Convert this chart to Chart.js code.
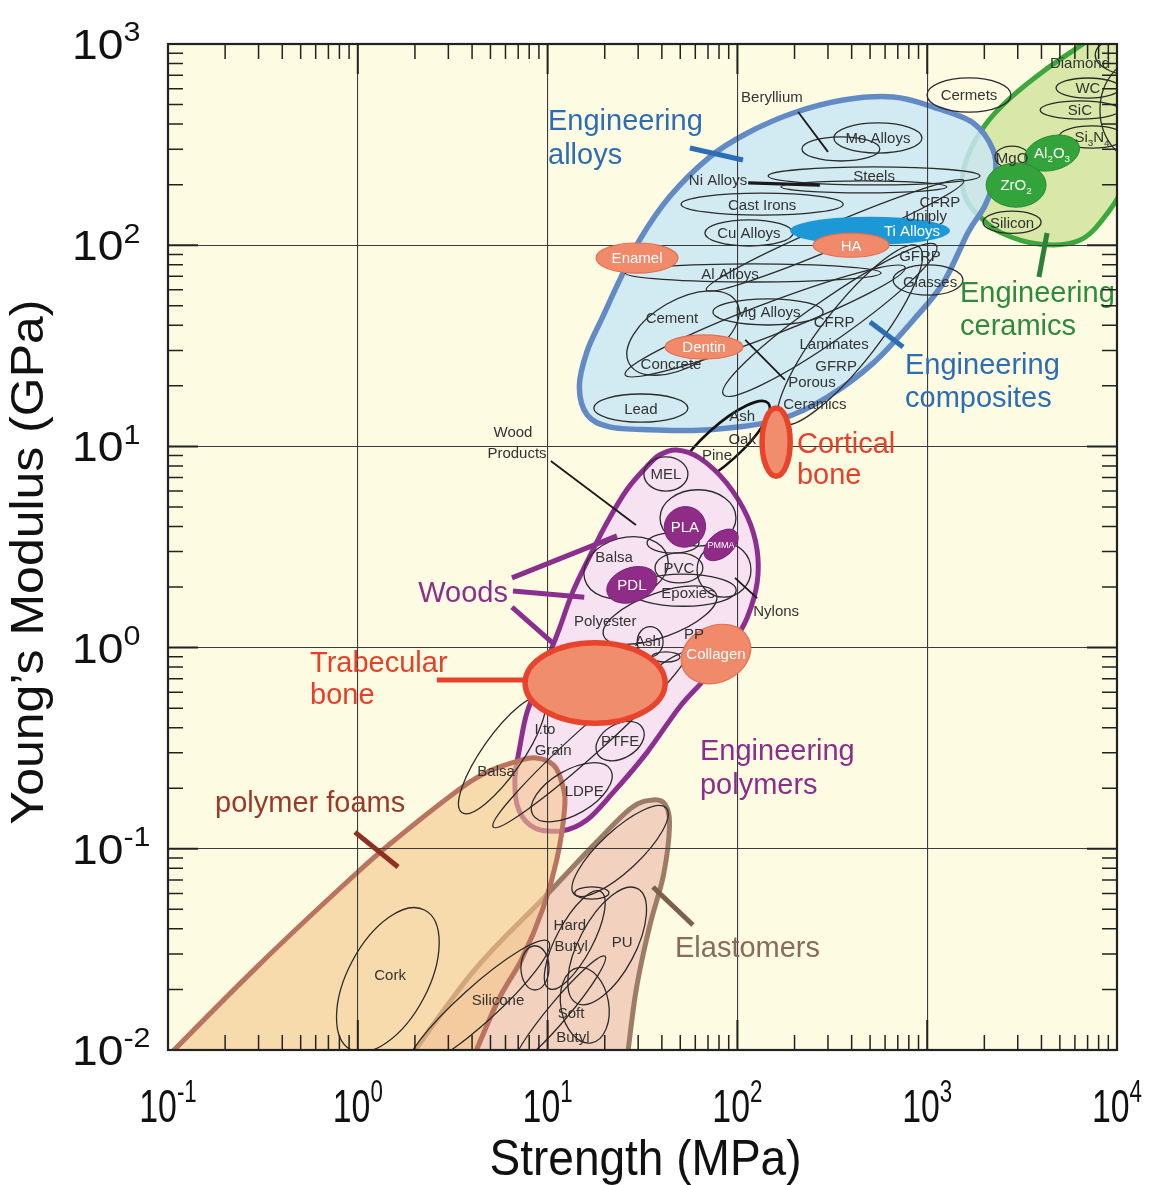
<!DOCTYPE html>
<html lang="en">
<head>
<meta charset="UTF-8" />
<title>Strength vs Young's Modulus</title>
<script src="https://cdn.jsdelivr.net/npm/chart.js"></script>
<style>
  body { margin: 0; background: #fff; }
  canvas { display: block; }
</style>
</head>
<body>
<canvas id="chart" width="1152" height="1185"></canvas>
<script>
// axes
const xDecades = [0.1, 1, 10, 100, 1000, 10000];
const yDecades = [0.01, 0.1, 1, 10, 100, 1000];
const xTickText = ['10^-1', '10^0', '10^1', '10^2', '10^3', '10^4'];
const yTickText = ['10^-2', '10^-1', '10^0', '10^1', '10^2', '10^3'];
const minorSteps = [2, 3, 4, 5, 6, 7, 8, 9];

// material family envelopes: strength (MPa) / modulus (GPa) outline points
const ceramicsStrength = [9190, 7050, 4180, 2740, 2020, 1644, 1530, 1610, 1860, 2420, 3940, 6400, 8990, 11000, 13200, 13200];
const ceramicsModulus = [1316, 1047, 743, 539, 396, 281, 211, 168, 141, 116, 101, 106, 146, 211, 470, 1174];
const alloysStrength = [30.5, 43.9, 71.4, 113, 197, 362, 664, 1076, 1748, 2227, 2280, 2020, 1644, 1214, 846, 521, 298, 162, 71.4, 34.5, 21.2, 16.2, 14.7, 16.1, 19.5, 24.0];
const alloysModulus = [106, 174, 274, 361, 454, 527, 545, 486, 405, 297, 223, 158, 116, 64.9, 42.5, 26.0, 17.6, 13.5, 12.1, 12.1, 12.5, 14.3, 19.7, 29.5, 44.0, 67.2];
const polymersStrength = [47.8, 63.2, 87.7, 113, 127, 127, 113, 96.7, 68.8, 49.6, 33.2, 22.0, 16.1, 12.0, 8.56, 7.05, 6.72, 7.14, 7.77, 9.10, 10.6, 11.6, 13.5, 16.6, 20.5, 26.1, 33.2, 38.9];
const polymersModulus = [9.60, 8.76, 6.58, 4.46, 3.06, 2.09, 1.42, 1.09, 0.714, 0.507, 0.299, 0.189, 0.139, 0.123, 0.127, 0.156, 0.220, 0.321, 0.473, 0.690, 1.01, 1.26, 1.87, 2.82, 4.16, 6.07, 7.91, 9.06];
const foamsStrength = [0.0212, 0.0712, 0.298, 1.0, 1.685, 3.49, 4.96, 6.97, 8.66, 10.75, 12.0, 12.3, 11.2, 9.43, 7.31, 5.40, 3.54, 2.13];
const foamsModulus = [0.00201, 0.0067, 0.0262, 0.0767, 0.117, 0.200, 0.244, 0.273, 0.283, 0.261, 0.207, 0.160, 0.0889, 0.0502, 0.0283, 0.0171, 0.0067, 0.00213];
const elastomersStrength = [0.697, 1.48, 3.99, 9.43, 18.1, 27.7, 36.2, 41.8, 43.9, 40.8, 34.5, 29.1, 25.3, 22.4];
const elastomersModulus = [0.00256, 0.0067, 0.0241, 0.0563, 0.108, 0.160, 0.175, 0.165, 0.131, 0.0741, 0.0413, 0.0192, 0.0067, 0.00254];

// material bubbles: centre, half-spans in decades, tilt (deg), group
const bubbleName = ['Mo Alloys', '', 'Steels', '', 'Cast Irons', 'Cu Alloys', '', 'HA', 'Enamel', '',
  '', '', '', '', 'Mg Alloys', 'Dentin', 'Lead', '', '', 'Cermets',
  '', 'WC', 'SiC', 'Si_3N_4', '', 'MgO', 'Al_2O_3', 'ZrO_2', 'Silicon', '',
  '', 'MEL', '', 'PLA', 'PMMA', 'PDL', '', 'PVC', '', '',
  '', '', '', '', '', '', 'PTFE', '', 'Collagen', '',
  '', '', '', '', '', '', '', '', ''];
const bubbleStrength = [550, 351, 525, 464, 135, 115, 500, 397, 29.6, 121,
  327, 1010, 51.7, 140, 145, 66.7, 31.0, 392, 307, 1660,
  14060, 7030, 6380, 7380, 14900, 2800, 4550, 2940, 2800, 83.0,
  160, 42.0, 62.0, 52.9, 82.0, 27.8, 45.8, 49.2, 25.9, 51.7,
  85.0, 34.7, 42.0, 39.1, 5.75, 16.7, 24.1, 13.4, 77.1, 17.8,
  1.44, 24.1, 17.1, 13.9, 20.6, 15.7, 4.30, 8.58, 11.6];
const bubbleModulus = [341, 301, 221, 195, 160, 115, 118, 100, 86.3, 72.8,
  112, 67.1, 36.6, 42.0, 46.6, 31.2, 15.5, 35.8, 42.5, 558,
  881, 604, 470, 345, 470, 274, 287, 199, 130, 10.2,
  10.5, 7.29, 4.41, 3.98, 3.24, 2.05, 3.31, 2.49, 2.49, 1.93,
  2.43, 1.07, 0.898, 1.45, 0.292, 0.347, 0.343, 0.191, 0.929, 0.667,
  0.0223, 0.0975, 0.0603, 0.0352, 0.0329, 0.0167, 0.0167, 0.0256, 0.0158];
const bubbleSpanX = [0.232, 0.205, 0.558, 0.437, 0.427, 0.232, 0.421, 0.2, 0.216, 0.674,
  0.737, 0.184, 0.326, 0.79, 0.29, 0.205, 0.248, 0.59, 0.685, 0.221,
  0.263, 0.168, 0.21, 0.174, 0.263, 0.09, 0.148, 0.158, 0.153, 0.327,
  0.074, 0.116, 0.2, 0.11, 0.105, 0.137, 0.137, 0.126, 0.226, 0.28,
  0.142, 0.068, 0.074, 0.316, 0.369, 0.685, 0.137, 0.237, 0.19, 0.369,
  0.416, 0.332, 0.09, 0.29, 0.342, 0.126, 0.5, 0.074, 0.37];
const bubbleSpanY = [0.075, 0.06, 0.045, 0.03, 0.055, 0.065, 0.07, 0.06, 0.075, 0.045,
  0.06, 0.075, 0.165, 0.08, 0.065, 0.06, 0.07, 0.14, 0.1, 0.085,
  0.11, 0.05, 0.045, 0.055, 0.275, 0.055, 0.085, 0.11, 0.055, 0.09,
  0.17, 0.085, 0.14, 0.1, 0.06, 0.085, 0.05, 0.075, 0.15, 0.08,
  0.135, 0.075, 0.025, 0.11, 0.1, 0.07, 0.085, 0.11, 0.14, 0.2,
  0.2, 0.1, 0.03, 0.09, 0.14, 0.19, 0.09, 0.11, 0.05];
const bubbleTilt = [0, 0, 0, 0, 0, 0, 0, 0, 0, 0,
  -23, 0, -30, -21, 0, 0, 0, -52, -35, 0,
  0, 0, 0, 0, 0, 0, -15, 0, 0, -42,
  0, 0, 0, -30, -40, -20, 0, 0, -15, 0,
  0, 0, 0, -20, -55, -42, -30, -30, -25, 0,
  -62, -43, 0, -62, -62, -10, -42, 0, -50];
const bubbleGroup = ['plain', 'plain', 'plain', 'plain', 'plain', 'plain', 'titanium', 'tissue', 'tissue', 'plain',
  'plain', 'plain', 'plain', 'plain', 'plain', 'tissue', 'plain', 'plain', 'plain', 'plain',
  'plain', 'plain', 'plain', 'plain', 'plain', 'plain', 'oxide', 'oxide', 'plain', 'wood',
  'bone', 'plain', 'plain', 'biopolymer', 'biopolymer', 'biopolymer', 'plain', 'plain', 'plain', 'plain',
  'plain', 'plain', 'plain', 'plain', 'plain', 'plain', 'plain', 'plain', 'tissue', 'bone',
  'plain', 'plain', 'plain', 'plain', 'plain', 'plain', 'plain', 'plain', 'plain'];

// free material labels
const labelText = ['Beryllium', 'Ni Alloys', 'Ti Alloys', 'Al Alloys', 'CFRP', 'Uniply', 'GFRP', 'Glasses', 'Cement', 'Concrete',
  'CFRP', 'Laminates', 'GFRP', 'Porous', 'Ceramics', 'Diamond', 'Wood', 'Products', 'Ash', 'Oak',
  'Pine', 'Balsa', 'Epoxies', 'Nylons', 'Polyester', 'Ash', 'PP', 'I.to', 'Grain', 'Balsa',
  'LDPE', 'Cork', 'Hard', 'Butyl', 'PU', 'Silicone', 'Soft', 'Butyl'];
const labelStrength = [152, 79.0, 832, 91.4, 1167, 986, 916, 1035, 45.2, 44.7,
  323, 323, 331, 247, 256, 6380, 6.57, 6.90, 106, 106,
  78.1, 22.4, 54.9, 160, 20.1, 33.8, 59.1, 9.69, 10.7, 5.35,
  15.6, 1.48, 13.1, 13.3, 24.7, 5.48, 13.3, 13.6];
const labelModulus = [545, 211, 118, 71.9, 164, 140, 88.3, 65.6, 43.5, 25.7,
  41.5, 32.3, 25.1, 21.1, 16.4, 805, 11.8, 9.27, 14.3, 10.9,
  9.06, 2.82, 1.87, 1.52, 1.36, 1.08, 1.18, 0.398, 0.310, 0.244,
  0.194, 0.0236, 0.0418, 0.0329, 0.0344, 0.0179, 0.0153, 0.0117];

// family names
const familyText = ['Engineering', 'alloys', 'Engineering', 'composites', 'Engineering', 'ceramics', 'Cortical', 'bone',
  'Woods', 'Trabecular', 'bone', 'Engineering', 'polymers', 'polymer foams', 'Elastomers'];
const familyStrength = [10.05, 10.05, 764, 764, 1489, 1489, 206, 206, 2.08, 0.560, 0.560, 63.5, 63.5, 0.177, 46.9];
const familyModulus = [419, 287, 25.7, 17.6, 58.5, 40.1, 10.5, 7.29, 1.89, 0.848, 0.588, 0.310, 0.212, 0.171, 0.0325];
const familyGroup = ['alloy', 'alloy', 'alloy', 'alloy', 'ceramic', 'ceramic', 'bone', 'bone',
  'polymer', 'bone', 'bone', 'polymer', 'polymer', 'foam', 'elastomer'];

// leader lines
const leaderFromX = [56.2, 500, 4280, 2.61, 6.49, 6.57, 6.49, 0.966, 35.9, 209, 114, 10.4, 110, 97.1];
const leaderFromY = [304, 41.5, 115, 0.690, 2.22, 1.91, 1.59, 0.121, 0.0646, 459, 204, 8.46, 33.8, 2.22];
const leaderToX = [107, 746, 3880, 7.79, 23.2, 15.6, 10.7, 1.63, 58.3, 300, 272, 29.2, 178, 127];
const leaderToY = [265, 31.2, 69.5, 0.690, 3.59, 1.78, 1.05, 0.0812, 0.0418, 291, 199, 4.07, 21.4, 1.76];
const leaderGroup = ['alloy', 'alloy', 'ceramic', 'bone', 'polymer', 'polymer', 'polymer', 'foam', 'elastomer',
  'plain', 'bold', 'plain', 'plain', 'plain'];

const FONT = '"Liberation Sans", Arial, sans-serif';
const familyColor = { alloy: '#2d6db3', ceramic: '#2f8a3b', bone: '#e4412b', polymer: '#8b2f8c', foam: '#9a3a2a', elastomer: '#8a6b58' };
const leaderStyle = {
  alloy: ['#2d6db3', 5], ceramic: ['#2f7f3a', 5], bone: ['#e8412b', 5], polymer: ['#8b2f8c', 5],
  foam: ['#8f2f22', 5], elastomer: ['#7c604c', 5], plain: ['#1a1a1a', 1.8], bold: ['#1a1a1a', 3.2]
};
const bubbleStyle = {
  plain: [null, '#2b2b2b', 1.3],
  wood: [null, '#111111', 2.6],
  tissue: ['#f08a6a', '#e07052', 1.2],
  bone: ['#f08d6d', '#e8432b', 5.5],
  biopolymer: ['#8e2c88', '#7a2475', 1],
  oxide: ['#33a43a', '#2b8a33', 1],
  titanium: ['#1d98d6', null, 0]
};

function rich(text) {
  const parts = [];
  let buf = '';
  for (let i = 0; i < text.length; i++) {
    const c = text[i];
    if (c === '_') {
      if (buf) parts.push({ t: buf, m: 0 });
      buf = '';
      parts.push({ t: text[i + 1], m: 1 });
      i++;
    } else if (c === '^') {
      if (buf) parts.push({ t: buf, m: 0 });
      buf = '';
      parts.push({ t: text.slice(i + 1), m: 2 });
      break;
    } else buf += c;
  }
  if (buf) parts.push({ t: buf, m: 0 });
  return parts;
}

// y is the baseline
function drawRich(ctx, text, x, y, size, align, sx) {
  const parts = rich(text);
  const small = size * 0.66;
  let w = 0;
  parts.forEach(p => {
    ctx.font = (p.m ? small : size) + 'px ' + FONT;
    p.w = ctx.measureText(p.t).width;
    w += p.w;
  });
  ctx.save();
  ctx.translate(x, y);
  ctx.scale(sx || 1, 1);
  let cx = align === 'center' ? -w / 2 : align === 'right' ? -w : 0;
  ctx.textAlign = 'left';
  ctx.textBaseline = 'alphabetic';
  parts.forEach(p => {
    ctx.font = (p.m ? small : size) + 'px ' + FONT;
    const dy = p.m === 1 ? size * 0.22 : p.m === 2 ? -size * 0.42 : 0;
    ctx.fillText(p.t, cx, dy);
    cx += p.w;
  });
  ctx.restore();
}

function drawFitted(ctx, text, x, y, size, width, angle) {
  ctx.save();
  ctx.font = size + 'px ' + FONT;
  const w = ctx.measureText(text).width;
  ctx.translate(x, y);
  ctx.rotate(angle);
  ctx.scale(width / w, 1);
  ctx.textAlign = 'center';
  ctx.textBaseline = 'alphabetic';
  ctx.fillText(text, 0, 0);
  ctx.restore();
}

function px(chart, s, m) {
  return [chart.scales.x.getPixelForValue(s), chart.scales.y.getPixelForValue(m)];
}

function closedCurve(ctx, pts) {
  const n = pts.length;
  ctx.beginPath();
  ctx.moveTo(pts[0][0], pts[0][1]);
  for (let i = 0; i < n; i++) {
    const p0 = pts[(i - 1 + n) % n], p1 = pts[i], p2 = pts[(i + 1) % n], p3 = pts[(i + 2) % n];
    ctx.bezierCurveTo(p1[0] + (p2[0] - p0[0]) / 6, p1[1] + (p2[1] - p0[1]) / 6,
      p2[0] - (p3[0] - p1[0]) / 6, p2[1] - (p3[1] - p1[1]) / 6, p2[0], p2[1]);
  }
  ctx.closePath();
}

function envelope(chart, xs, ys, fill, stroke, lw) {
  const ctx = chart.ctx;
  closedCurve(ctx, xs.map((s, i) => px(chart, s, ys[i])));
  ctx.fillStyle = fill;
  ctx.fill();
  ctx.strokeStyle = stroke;
  ctx.lineWidth = lw;
  ctx.stroke();
}

function bubbles(chart, keep) {
  const ctx = chart.ctx;
  const xs = chart.scales.x, ys = chart.scales.y;
  const xDec = xs.getPixelForValue(10) - xs.getPixelForValue(1);
  const yDec = ys.getPixelForValue(1) - ys.getPixelForValue(10);
  bubbleStrength.forEach((s, i) => {
    if (!keep(bubbleGroup[i])) return;
    const [cx, cy] = px(chart, s, bubbleModulus[i]);
    const [fill, stroke, lw] = bubbleStyle[bubbleGroup[i]];
    ctx.beginPath();
    ctx.ellipse(cx, cy, bubbleSpanX[i] * xDec, bubbleSpanY[i] * yDec, bubbleTilt[i] * Math.PI / 180, 0, Math.PI * 2);
    if (fill) { ctx.fillStyle = fill; ctx.fill(); }
    if (stroke) { ctx.strokeStyle = stroke; ctx.lineWidth = lw; ctx.stroke(); }
  });
}

function clipArea(ctx, a) {
  ctx.beginPath();
  ctx.rect(a.left, a.top, a.right - a.left, a.bottom - a.top);
  ctx.clip();
}

const ashbyPlugin = {
  id: 'ashby',
  beforeDraw(chart) {
    const { ctx, chartArea: a } = chart;
    ctx.save();
    ctx.fillStyle = '#ffffff';
    ctx.fillRect(0, 0, chart.width, chart.height);
    ctx.fillStyle = '#fdfbe2';
    ctx.fillRect(a.left, a.top, a.right - a.left, a.bottom - a.top);
    clipArea(ctx, a);
    ctx.lineJoin = 'round';
    envelope(chart, ceramicsStrength, ceramicsModulus, '#d9e8a8', '#3da63c', 5);
    envelope(chart, alloysStrength, alloysModulus, 'rgba(203,230,243,0.86)', '#628ac5', 5.5);
    envelope(chart, elastomersStrength, elastomersModulus, '#f2d1bf', '#9c7c67', 5);
    bubbles(chart, g => g === 'wood');
    envelope(chart, polymersStrength, polymersModulus, '#f7e2f1', '#8d2f8f', 5);
    envelope(chart, foamsStrength, foamsModulus, 'rgba(245,199,139,0.6)', '#b9735f', 5);
    ctx.restore();
  },
  afterDatasetsDraw(chart) {
    const { ctx, chartArea: a } = chart;
    ctx.save();
    clipArea(ctx, a);
    const filled = g => bubbleStyle[g][0] !== null;
    bubbles(chart, g => g !== 'wood' && !filled(g));
    bubbles(chart, g => filled(g));

    ctx.lineCap = 'butt';
    leaderFromX.forEach((s, i) => {
      const [x1, y1] = px(chart, s, leaderFromY[i]);
      const [x2, y2] = px(chart, leaderToX[i], leaderToY[i]);
      const [c, w] = leaderStyle[leaderGroup[i]];
      ctx.strokeStyle = c;
      ctx.lineWidth = w;
      ctx.beginPath();
      ctx.moveTo(x1, y1);
      ctx.lineTo(x2, y2);
      ctx.stroke();
    });

    bubbleName.forEach((name, i) => {
      if (!name) return;
      const [cx, cy] = px(chart, bubbleStrength[i], bubbleModulus[i]);
      const size = name === 'PMMA' ? 9 : 15;
      ctx.fillStyle = filled(bubbleGroup[i]) ? '#ffffff' : '#333333';
      drawRich(ctx, name, cx, cy + size * 0.36, size, 'center', 1);
    });
    labelText.forEach((t, i) => {
      const [cx, cy] = px(chart, labelStrength[i], labelModulus[i]);
      ctx.fillStyle = t === 'Ti Alloys' ? '#ffffff' : '#333333';
      drawRich(ctx, t, cx, cy + 15 * 0.36, 15, 'center', 1);
    });
    familyText.forEach((t, i) => {
      const [lx, ly] = px(chart, familyStrength[i], familyModulus[i]);
      ctx.fillStyle = familyColor[familyGroup[i]];
      drawRich(ctx, t, lx, ly + 29 * 0.36, 29, 'left', 1);
    });
    ctx.restore();
  },
  afterDraw(chart) {
    const { ctx, chartArea: a } = chart;
    const xs = chart.scales.x, ys = chart.scales.y;
    ctx.save();
    ctx.strokeStyle = '#222';
    // minor and major ticks, all four sides, pointing inwards
    ctx.lineWidth = 1.5;
    ctx.beginPath();
    xDecades.slice(0, -1).forEach(d => minorSteps.forEach(m => {
      const x = xs.getPixelForValue(d * m);
      ctx.moveTo(x, a.bottom); ctx.lineTo(x, a.bottom - 15);
      ctx.moveTo(x, a.top); ctx.lineTo(x, a.top + 15);
    }));
    yDecades.slice(0, -1).forEach(d => minorSteps.forEach(m => {
      const y = ys.getPixelForValue(d * m);
      ctx.moveTo(a.left, y); ctx.lineTo(a.left + 15, y);
      ctx.moveTo(a.right, y); ctx.lineTo(a.right - 15, y);
    }));
    ctx.stroke();
    ctx.lineWidth = 2;
    ctx.beginPath();
    xDecades.forEach(d => {
      const x = xs.getPixelForValue(d);
      ctx.moveTo(x, a.bottom); ctx.lineTo(x, a.bottom - 30);
      ctx.moveTo(x, a.top); ctx.lineTo(x, a.top + 30);
    });
    yDecades.forEach(d => {
      const y = ys.getPixelForValue(d);
      ctx.moveTo(a.left, y); ctx.lineTo(a.left + 30, y);
      ctx.moveTo(a.right, y); ctx.lineTo(a.right - 30, y);
    });
    ctx.stroke();
    ctx.lineWidth = 2.2;
    ctx.strokeRect(a.left, a.top, a.right - a.left, a.bottom - a.top);

    // tick labels
    ctx.fillStyle = '#111';
    xDecades.forEach((d, i) => drawRich(ctx, xTickText[i], xs.getPixelForValue(d), 1122, 47, 'center', 0.72));
    yDecades.forEach((d, i) => drawRich(ctx, yTickText[i], 72, ys.getPixelForValue(d) + 15, 42, 'left', 1.1));

    // axis titles
    drawFitted(ctx, 'Strength (MPa)', (a.left + a.right) / 2 + 3, 1175, 50, 312, 0);
    drawFitted(ctx, 'Young’s Modulus (GPa)', 43, 562, 46, 525, -Math.PI / 2);
    ctx.restore();
  }
};

new Chart(document.getElementById('chart'), {
  type: 'scatter',
  data: {
    datasets: [{
      label: 'materials',
      data: bubbleStrength.map((s, i) => ({ x: s, y: bubbleModulus[i] })),
      pointRadius: 0,
      pointHoverRadius: 0
    }]
  },
  options: {
    responsive: false,
    animation: false,
    events: [],
    layout: { padding: { left: 168, top: 44, right: 35, bottom: 135 } },
    plugins: { legend: { display: false }, tooltip: { enabled: false } },
    scales: {
      x: {
        type: 'logarithmic', min: 0.1, max: 10000,
        afterBuildTicks: axis => { axis.ticks = xDecades.map(v => ({ value: v })); },
        afterFit: axis => { axis.height = 0; },
        ticks: { display: false },
        grid: { color: '#3c3c3c', lineWidth: 1.1, drawTicks: false },
        border: { display: false }
      },
      y: {
        type: 'logarithmic', min: 0.01, max: 1000,
        afterBuildTicks: axis => { axis.ticks = yDecades.map(v => ({ value: v })); },
        afterFit: axis => { axis.width = 0; },
        ticks: { display: false },
        grid: { color: '#3c3c3c', lineWidth: 1.1, drawTicks: false },
        border: { display: false }
      }
    }
  },
  plugins: [ashbyPlugin]
});
</script>
</body>
</html>
